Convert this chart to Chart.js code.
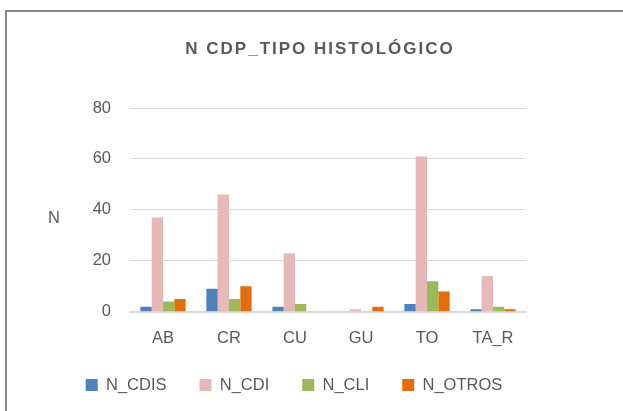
<!DOCTYPE html>
<html><head><meta charset="utf-8">
<script src="https://cdn.jsdelivr.net/npm/chart.js@4"></script>
<style>html,body{margin:0;padding:0;background:#fff}#wrap{width:623px;height:411px;position:relative}</style>
</head><body><div id="wrap"><canvas id="c" width="623" height="411"></canvas></div>
<script>
const categories = ['AB','CR','CU','GU','TO','TA_R'];
const N_CDIS  = [2, 9, 2, 0, 3, 1];
const N_CDI   = [37, 46, 23, 1, 61, 14];
const N_CLI   = [4, 5, 3, 0, 12, 2];
const N_OTROS = [5, 10, 0, 2, 8, 1];
const yTicks = [0, 20, 40, 60, 80];
const titleText = 'N CDP_TIPO HISTOLÓGICO';
const yTitle = 'N';

const FONT = '"Liberation Sans", Arial, sans-serif';
const GREY = '#595959';

const decor = {
  id: 'decor',
  beforeDraw(chart) {
    const ctx = chart.ctx;
    ctx.save();
    ctx.fillStyle = '#fff';
    ctx.fillRect(0, 0, chart.width, chart.height);
    ctx.strokeStyle = '#898989';
    ctx.lineWidth = 2;
    ctx.strokeRect(6, 11, 800, 600);
    ctx.restore();
  },
  afterDraw(chart) {
    const ctx = chart.ctx;
    ctx.save();
    ctx.fillStyle = GREY;
    ctx.font = 'bold 17px ' + FONT;
    try { ctx.letterSpacing = '2px'; } catch (e) {}
    ctx.textAlign = 'center';
    ctx.textBaseline = 'alphabetic';
    ctx.fillText(titleText, 320, 53.5);
    try { ctx.letterSpacing = '0px'; } catch (e) {}
    ctx.font = '16.5px ' + FONT;
    ctx.textAlign = 'left';
    ctx.fillText(yTitle, 48, 222.7);
    ctx.restore();
  }
};

new Chart(document.getElementById('c'), {
  type: 'bar',
  data: {
    labels: categories,
    datasets: [
      { label: 'N_CDIS', data: N_CDIS, backgroundColor: '#4F81BD' },
      { label: 'N_CDI', data: N_CDI, backgroundColor: '#E6B9B8' },
      { label: 'N_CLI', data: N_CLI, backgroundColor: '#9BBB59' },
      { label: 'N_OTROS', data: N_OTROS, backgroundColor: '#E46C0A' }
    ]
  },
  options: {
    responsive: false,
    animation: false,
    devicePixelRatio: 1,
    datasets: { bar: { categoryPercentage: 0.686, barPercentage: 1.0 } },
    layout: { padding: { top: 108, left: 0, right: 35, bottom: 7.75 } },
    plugins: {
      title: { display: false },
      tooltip: { enabled: false },
      legend: {
        position: 'bottom',
        labels: {
          boxWidth: 12, boxHeight: 12, padding: 33,
          color: GREY,
          font: { family: FONT, size: 16.5 }
        }
      }
    },
    scales: {
      x: {
        afterFit(scale) {
          scale.height = 32;
          // let the labels (e.g. the underscore of TA_R) overflow the scale box
          scale._computeLabelArea = () => undefined;
        },
        grid: { display: false },
        border: { display: true, color: '#d9d9d9', width: 2 },
        ticks: { color: GREY, font: { family: FONT, size: 16.5 }, padding: 8.5 }
      },
      y: {
        min: 0, max: 80,
        afterBuildTicks(scale) { scale.ticks = yTicks.map(v => ({ value: v })); },
        afterFit(scale) { scale.width = 130; },
        grid: { color: '#d9d9d9', lineWidth: 1, drawTicks: false },
        border: { display: false },
        ticks: { color: GREY, font: { family: FONT, size: 16.5 }, padding: 19 }
      },
      y2: {
        position: 'right',
        min: 0, max: 80,
        afterFit(scale) { scale.width = 62; },
        grid: { display: false },
        border: { display: false },
        ticks: { display: false }
      }
    }
  },
  plugins: [decor]
});
</script></body></html>
